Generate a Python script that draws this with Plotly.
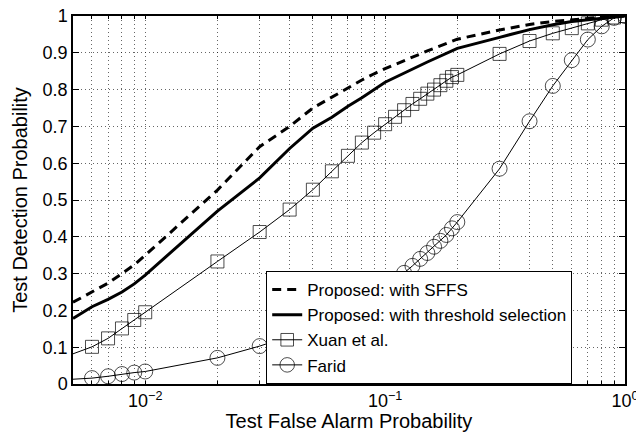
import plotly.graph_objects as go

# ---- data ----
x_prop = [0.005, 0.006, 0.007, 0.008, 0.009, 0.01, 0.02, 0.03, 0.04, 0.05, 0.06, 0.07,
          0.08, 0.09, 0.1, 0.15, 0.2, 0.3, 0.4, 0.5, 0.6, 0.7, 0.8, 0.9, 1.0]
y_sffs = [0.222, 0.25, 0.274, 0.30, 0.324, 0.35, 0.527, 0.645, 0.70, 0.75, 0.78, 0.806,
          0.826, 0.843, 0.857, 0.905, 0.937, 0.962, 0.977, 0.985, 0.99, 0.993, 0.996, 0.998, 1.0]
y_thr = [0.178, 0.21, 0.23, 0.25, 0.272, 0.296, 0.47, 0.56, 0.64, 0.695, 0.725, 0.755,
         0.778, 0.80, 0.82, 0.875, 0.912, 0.942, 0.963, 0.976, 0.985, 0.99, 0.994, 0.997, 1.0]

x_base = [0.005, 0.006, 0.007, 0.008, 0.009, 0.01, 0.02, 0.03, 0.04, 0.05, 0.06, 0.07, 0.08,
          0.09, 0.1, 0.11, 0.12, 0.13, 0.14, 0.15, 0.16, 0.17, 0.18, 0.19, 0.2, 0.3, 0.4,
          0.5, 0.6, 0.7, 0.8, 0.9, 1.0]
y_xuan = [0.082, 0.101, 0.124, 0.151, 0.174, 0.195, 0.333, 0.413, 0.474, 0.528, 0.578, 0.62,
          0.656, 0.683, 0.706, 0.726, 0.744, 0.761, 0.775, 0.789, 0.80, 0.812, 0.824, 0.834,
          0.84, 0.897, 0.932, 0.953, 0.967, 0.98, 0.99, 0.996, 1.0]
y_farid = [0.013, 0.016, 0.021, 0.027, 0.031, 0.034, 0.071, 0.103, 0.13, 0.155, 0.178, 0.20,
           0.222, 0.243, 0.263, 0.283, 0.302, 0.321, 0.34, 0.356, 0.373, 0.389, 0.405, 0.423,
           0.44, 0.585, 0.714, 0.81, 0.88, 0.936, 0.972, 0.995, 1.0]

names = ["Proposed: with SFFS", "Proposed: with threshold selection", "Xuan et al.", "Farid"]
x_major = [0.01, 0.1, 1]
x_major_text = ["10<sup>\u22122</sup>", "10<sup>\u22121</sup>", "10<sup>0</sup>"]
x_minor = [0.005, 0.006, 0.007, 0.008, 0.009, 0.02, 0.03, 0.04, 0.05, 0.06, 0.07, 0.08, 0.09,
           0.2, 0.3, 0.4, 0.5, 0.6, 0.7, 0.8, 0.9]
y_ticks = [0, 0.1, 0.2, 0.3, 0.4, 0.5, 0.6, 0.7, 0.8, 0.9, 1]
y_ticktext = ["0", "0.1", "0.2", "0.3", "0.4", "0.5", "0.6", "0.7", "0.8", "0.9", "1"]

FONT = "Liberation Sans, Arial, Helvetica, sans-serif"

x_all = sorted(x_major + x_minor)
x_all_text = [x_major_text[x_major.index(v)] if v in x_major else "" for v in x_all]

fig = go.Figure()
fig.add_trace(go.Scatter(x=x_prop, y=y_sffs, mode="lines", name=names[0],
                         line=dict(color="black", width=3, dash="9px,6px")))
fig.add_trace(go.Scatter(x=x_prop, y=y_thr, mode="lines", name=names[1],
                         line=dict(color="black", width=3)))
msz_sq = [0] + [13] * (len(x_base) - 1)
msz_ci = [0] + [15] * (len(x_base) - 1)
fig.add_trace(go.Scatter(x=x_base, y=y_xuan, mode="lines+markers", name=names[2],
                         line=dict(color="black", width=1),
                         marker=dict(symbol="square-open", size=msz_sq, color="black",
                                     line=dict(width=1, color="black"))))
fig.add_trace(go.Scatter(x=x_base, y=y_farid, mode="lines+markers", name=names[3],
                         line=dict(color="black", width=1),
                         marker=dict(symbol="circle-open", size=msz_ci, color="black",
                                     line=dict(width=1, color="black"))))

grid = dict(gridcolor="rgba(0,0,0,0.6)", griddash="1px,3px", gridwidth=1)
fig.update_layout(
    width=636, height=432,
    margin=dict(l=73, r=11, t=16, b=48),
    paper_bgcolor="white", plot_bgcolor="white",
    font=dict(family=FONT, size=18, color="black"),
    showlegend=True,
    legend=dict(x=0.35, y=0.307, xanchor="left", yanchor="top",
                bgcolor="white", bordercolor="black", borderwidth=1,
                font=dict(size=17), tracegroupgap=0, itemwidth=30),
    xaxis=dict(type="log", range=[-2.30103, 0], tickvals=x_all, ticktext=x_all_text,
               showline=True, linecolor="black", linewidth=1.5, mirror="allticks",
               ticks="inside", ticklen=3, tickcolor="black", showgrid=True, **grid,
               zeroline=False, automargin=False, ticklabeloverflow="allow",
               title=dict(text="Test False Alarm Probability", font=dict(size=20), standoff=0)),
    xaxis2=dict(type="log", range=[-2.30103, 0], overlaying="x", anchor="y", side="bottom",
                tickvals=x_major, showticklabels=False, ticks="inside", ticklen=6,
                tickcolor="black", mirror="allticks", showline=False, showgrid=False,
                zeroline=False, automargin=False),
    yaxis=dict(range=[0, 1], tickvals=y_ticks, ticktext=y_ticktext,
               showline=True, linecolor="black", linewidth=1.5, mirror="allticks",
               ticks="inside", ticklen=6, tickcolor="black", showgrid=True, **grid,
               zeroline=False, automargin=False,
               title=dict(text="Test Detection Probability", font=dict(size=20), standoff=10)),
)

fig.write_html("out.html")
